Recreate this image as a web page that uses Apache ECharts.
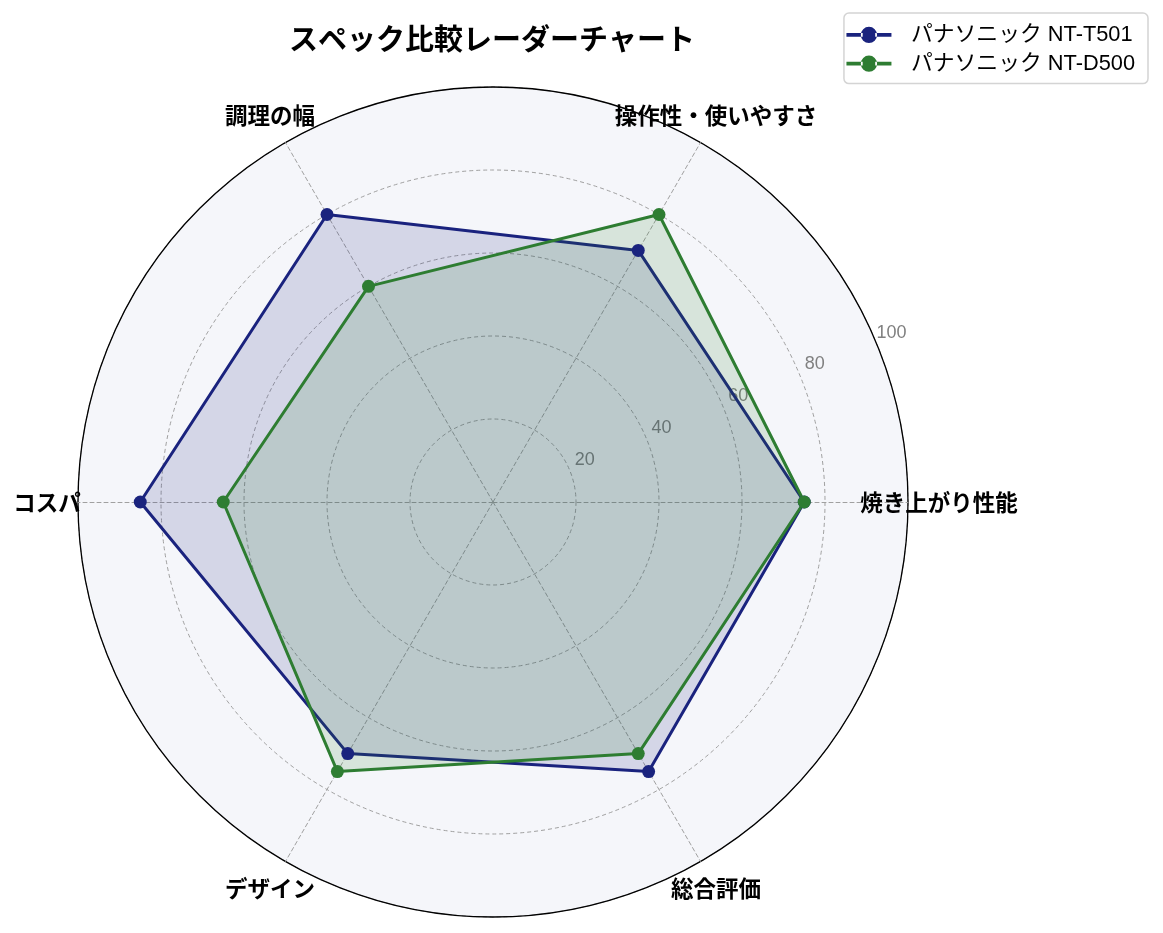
<!DOCTYPE html>
<html>
<head>
<meta charset="utf-8">
<script src="https://cdn.jsdelivr.net/npm/echarts@6/dist/echarts.min.js"></script>
<style>
  html, body { margin: 0; padding: 0; background: #fff; }
  #chart { width: 1163px; height: 933px; }
</style>
</head>
<body>
<div id="chart"></div>
<script>
// 指標とシリーズ
const indicators = ['焼き上がり性能', '操作性・使いやすさ', '調理の幅', 'コスパ', 'デザイン', '総合評価']
const seriesNames = ['パナソニック NT-T501', 'パナソニック NT-D500']
const t501Values = [75, 70, 80, 85, 70, 75]
const d500Values = [75, 80, 60, 65, 75, 70]
const seriesColors = ['#1a237e', '#2e7d32']
const axisMax = 100
const axisStep = 20

const center = [493, 502]
const radius = 415
const font = '"Noto Sans CJK JP", "Noto Sans", sans-serif'
const latinFont = '"Liberation Sans", "Noto Sans CJK JP", sans-serif'

// 凡例アイコン: 線 + 丸
const legendIcon = 'path://M0,5.5 L13,5.5 L13,8.5 L0,8.5 Z M23,5.5 L36,5.5 L36,8.5 L23,8.5 Z M11.5,7 A6.5,6.5 0 1,0 24.5,7 A6.5,6.5 0 1,0 11.5,7 Z'

const indicatorList = indicators.map(name => ({ name: name, min: 0, max: axisMax }))

const chart = echarts.init(document.getElementById('chart'))

const option = {
  textStyle: { fontFamily: font },
  title: {
    text: 'スペック比較レーダーチャート',
    left: 487,
    top: 19,
    textAlign: 'center',
    textStyle: { fontSize: 29, fontWeight: 'bold', color: '#000', fontFamily: font }
  },
  legend: {
    data: seriesNames,
    orient: 'vertical',
    right: 15,
    top: 13,
    icon: legendIcon,
    itemWidth: 45,
    itemHeight: 17.5,
    itemGap: 7,
    padding: [11, 13, 9, 2.5],
    backgroundColor: '#fff',
    borderColor: '#d4d4d4',
    borderWidth: 1.5,
    borderRadius: 5,
    textStyle: { fontSize: 21.8, color: '#000', fontFamily: latinFont, padding: [0, 0, 0, 14.5] }
  },
  radar: [
    {
      center: center,
      radius: radius,
      startAngle: 0,
      shape: 'circle',
      splitNumber: axisMax / axisStep,
      indicator: indicatorList,
      nameGap: 31,
      axisName: {
        color: '#000',
        fontSize: 22.5,
        fontWeight: 'bold',
        fontFamily: font,
        align: 'center',
        verticalAlign: 'middle'
      },
      axisLine: { lineStyle: { color: '#a0a0a0', type: [4, 3], width: 1 } },
      splitLine: { lineStyle: { color: '#a0a0a0', type: [4, 3], width: 1 } },
      splitArea: { show: true, areaStyle: { color: ['#f5f6fa'] } }
    },
    {
      // 外周の実線
      center: center,
      radius: radius,
      startAngle: 0,
      shape: 'circle',
      splitNumber: 1,
      indicator: indicatorList,
      axisName: { show: false },
      axisLine: { show: false },
      splitArea: { show: false },
      splitLine: { lineStyle: { color: '#000', type: 'solid', width: 1.3 } }
    }
  ],
  // 目盛りラベル用 (22.5°方向)
  polar: { center: center, radius: [18, 433] },
  angleAxis: { type: 'value', min: 0, max: 360, startAngle: 22.5, show: false },
  radiusAxis: {
    type: 'value',
    min: 0,
    max: axisMax,
    interval: axisStep,
    axisLine: { show: false },
    axisTick: { show: false },
    splitLine: { show: false },
    axisLabel: {
      showMinLabel: false,
      margin: 4,
      color: '#808080',
      fontSize: 18,
      fontFamily: latinFont,
      align: 'center',
      verticalAlign: 'middle'
    }
  },
  series: [
    {
      type: 'radar',
      radarIndex: 0,
      symbol: 'circle',
      symbolSize: 13,
      data: [
        {
          name: seriesNames[0],
          value: t501Values,
          itemStyle: { color: seriesColors[0] },
          lineStyle: { color: seriesColors[0], width: 3 },
          areaStyle: { color: seriesColors[0], opacity: 0.15 }
        },
        {
          name: seriesNames[1],
          value: d500Values,
          itemStyle: { color: seriesColors[1] },
          lineStyle: { color: seriesColors[1], width: 3 },
          areaStyle: { color: seriesColors[1], opacity: 0.15 }
        }
      ]
    }
  ]
}

chart.setOption(option)
</script>
</body>
</html>
